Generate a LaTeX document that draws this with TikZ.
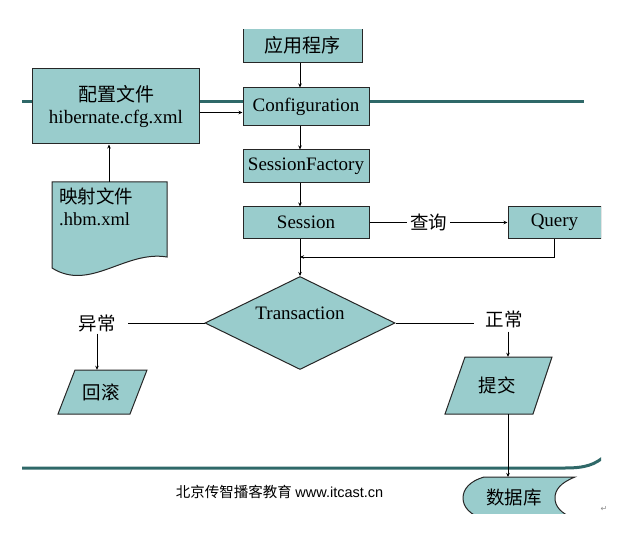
\documentclass[tikz,border=0pt]{standalone}
\usepackage{fontspec}
\setmainfont{Liberation Serif}
\setsansfont{Liberation Sans}
\newfontfamily\cjk{Noto Sans CJK SC}
\newfontfamily\dejavu{DejaVu Sans}
\usetikzlibrary{shapes.geometric,arrows.meta}
\definecolor{boxfill}{RGB}{153,204,204}
\definecolor{band}{RGB}{47,104,104}
\begin{document}
\begin{tikzpicture}[x=1bp,y=-1bp,
    box/.style={draw=black!85,line width=1bp,fill=boxfill,inner sep=0pt,font=\fontsize{19bp}{22bp}\selectfont},
    txt/.style={inner sep=0pt,font=\fontsize{18.5bp}{22bp}\selectfont\cjk},
    arr/.style={line width=0.8bp,-{Stealth[length=4bp,width=3.5bp]}}]
  \useasboundingbox (0,0) rectangle (635,538);
  \begin{scope}
    \clip (22,30) rectangle (601,513);
    \draw[band,line width=3bp] (22,102) -- (584,102);
    \draw[band,line width=3bp] (22,468) -- (565,468) .. controls (585,468) and (595,465) .. (606,455);
    \node[box,minimum width=119bp,minimum height=36bp] (app) at (302.5,45) {\cjk 应用程序};
    \node[box,minimum width=126bp,minimum height=38bp] (cfg) at (306,107) {Configuration};
    \node[box,minimum width=166bp,minimum height=75bp,align=center] (cfgfile) at (116,106.5) {{\cjk 配置文件}\\hibernate.cfg.xml};
    \node[box,minimum width=126bp,minimum height=33bp] (sf) at (306,166.5) {SessionFactory};
    \node[box,minimum width=126bp,minimum height=31bp] (sess) at (306,222.5) {Session};
    \node[box,minimum width=93bp,minimum height=31bp] (query) at (554.5,222.5) {Query};
    \draw[box] (52,182) -- (167,182) -- (167,257) .. controls (125,250) and (90,292) .. (52,268) -- cycle;
    \node[txt,align=left,anchor=north west] (mapfile) at (59,188) {映射文件\\{\rmfamily .hbm.xml}};
    \coordinate (maptop) at (109,182);
    \node[box,diamond,aspect=2,minimum width=190bp,minimum height=93bp,text height=13bp,text depth=21bp] (trans) at (300,323) {Transaction};
    \node[txt,inner xsep=12bp,inner ysep=2bp] (err) at (97,323) {异常};
    \node[txt,inner xsep=11bp,inner ysep=4bp] (ok) at (504,319) {正常};
    \draw[box] (75,370) -- (147,370) -- (130,414) -- (58,414) -- cycle;
    \node[txt,minimum height=44bp] (rb) at (101,392) {回滚};
    \draw[box] (465,357) -- (552,357) -- (533,414) -- (445,414) -- cycle;
    \node[txt,minimum height=57bp] (commit) at (497,385.5) {提交};
    \draw[box] (484,477) -- (575,477) .. controls (560,483) and (555,490) .. (555,498)
      .. controls (555,506) and (560,513) .. (575,519) -- (484,519)
      .. controls (470,515) and (463,507) .. (463,498) .. controls (463,489) and (470,481) .. (484,477) -- cycle;
    \node[txt] (db) at (514,498) {数据库};
    \node[font=\fontsize{14.5bp}{16bp}\selectfont] (foot) at (279.5,492) {{\cjk 北京传智播客教育} \sffamily www.itcast.cn};
    \coordinate (col) at (300,0);
    \coordinate (back) at (300,257);
    \coordinate (dbtop) at (508,477);
    \draw[arr] (app.south -| col) -- (cfg.north -| col);
    \draw[arr] ([yshift=-6bp]cfgfile.east) -- ([yshift=-6bp]cfgfile.east -| cfg.west);
    \draw[arr] (maptop) -- (maptop |- cfgfile.south);
    \draw[arr] (cfg.south -| col) -- (sf.north -| col);
    \draw[arr] (sf.south -| col) -- (sess.north -| col);
    \draw[arr] (sess) -- node[txt,fill=white,inner xsep=3bp,pos=0.43] (ask) {查询} (query);
    \draw[arr] (query.south) |- (back);
    \draw[arr] (sess.south -| col) -- (trans.north);
    \draw (trans.west) -- (err);
    \draw (trans.east) -- (trans.east -| ok.west);
    \draw[arr] (err.south) -- (err.south |- rb.north);
    \draw[arr] (ok.south -| dbtop) -- (commit.north -| dbtop);
    \draw[arr] (commit.south -| dbtop) -- (dbtop);
  \end{scope}
  \node[font=\fontsize{8bp}{8bp}\selectfont\dejavu,text=black!45] (mark) at (604,509) {↵};
\end{tikzpicture}
\end{document}
